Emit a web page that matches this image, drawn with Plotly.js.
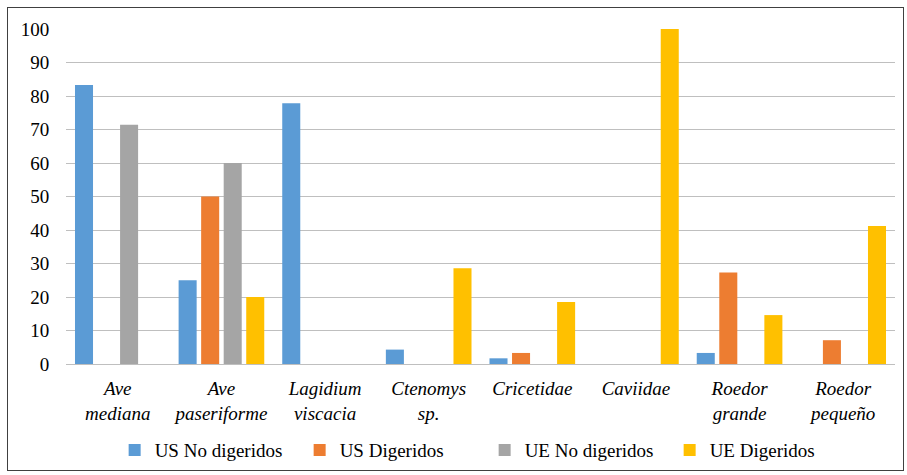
<!DOCTYPE html>
<html>
<head>
<meta charset="utf-8">
<script src="https://cdn.plot.ly/plotly-3.0.1.min.js"></script>
<style>
  html, body { margin: 0; padding: 0; background: #ffffff; }
  #wrap { position: relative; width: 907px; height: 475px; }
  #chart { width: 907px; height: 475px; }
  #frame { position: absolute; left: 7px; top: 7px; width: 895px; height: 462px; border: 1px solid #404040; pointer-events: none; }
  #warm { position: absolute; left: 0; top: 0; opacity: 0; pointer-events: none; font-family: "Liberation Serif"; font-size: 19px; }
</style>
</head>
<body>
<div id="wrap">
  <div id="chart"></div>
  <div id="frame"></div>
  <div id="warm"><span>0123456789 Ave</span><i>Ave mediana</i></div>
</div>
<script>
const categories = ["Ave<br>mediana", "Ave<br>paseriforme", "Lagidium<br>viscacia", "Ctenomys<br>sp.", "Cricetidae", "Caviidae", "Roedor<br>grande", "Roedor<br>pequeño"];
const seriesNames = ["US No digeridos", "US Digeridos", "UE No digeridos", "UE Digeridos"];
const usNoDigeridos = [83.3, 25, 77.8, 4.3, 1.7, 0, 3.3, 0];
const usDigeridos   = [0, 50, 0, 0, 3.3, 0, 27.3, 7.1];
const ueNoDigeridos = [71.4, 60, 0, 0, 0, 0, 0, 0];
const ueDigeridos   = [0, 20, 0, 28.6, 18.5, 100, 14.6, 41.2];
const yTicks = [0, 10, 20, 30, 40, 50, 60, 70, 80, 90, 100];

const colors = ["#5B9BD5", "#ED7D31", "#A5A5A5", "#FFC000"];
const values = [usNoDigeridos, usDigeridos, ueNoDigeridos, ueDigeridos];

const traces = values.map((v, i) => ({
  type: "bar",
  name: seriesNames[i],
  x: categories,
  y: v,
  marker: { color: colors[i] }
}));

const font = "Liberation Serif";

const layout = {
  width: 907,
  height: 475,
  margin: { l: 66, r: 12, t: 29, b: 111, autoexpand: false },
  paper_bgcolor: "#ffffff",
  plot_bgcolor: "#ffffff",
  barmode: "group",
  bargap: 0.13,
  bargroupgap: 0.2,
  font: { family: font, size: 19, color: "#000000" },
  xaxis: {
    type: "category",
    showgrid: false,
    showline: true,
    linecolor: "#bfbfbf",
    linewidth: 1,
    ticks: "outside",
    ticklen: 7,
    tickcolor: "rgba(0,0,0,0)",
    tickfont: { family: font, size: 19, style: "italic" }
  },
  yaxis: {
    range: [0, 100],
    tickvals: yTicks,
    showgrid: true,
    gridcolor: "#bfbfbf",
    gridwidth: 1,
    zeroline: false,
    ticks: "outside",
    ticklen: 12,
    tickcolor: "rgba(0,0,0,0)",
    tickfont: { family: font, size: 19 }
  },
  showlegend: true,
  legend: {
    orientation: "h",
    x: 0.505,
    xanchor: "center",
    y: -0.257,
    yanchor: "middle",
    entrywidth: 140,
    entrywidthmode: "pixels",
    font: { family: font, size: 19 }
  }
};

function draw() {
  Plotly.newPlot("chart", traces, layout, { displayModeBar: false, staticPlot: true }).then(gd => {
    document.querySelectorAll('#chart text').forEach(t => { void getComputedStyle(t).fontFamily; });
    return Plotly.relayout(gd, {});
  }).then(() => {
    document.querySelectorAll('#chart .xtick text, #chart .ytick text').forEach(t => {
      const ff = t.style.fontFamily;
      t.style.fontFamily = 'serif';
      void t.getBBox();
      t.style.fontFamily = ff;
    });
  });
}

Promise.all([
  document.fonts.load('19px "Liberation Serif"'),
  document.fonts.load('italic 19px "Liberation Serif"')
]).then(draw, draw);
</script>
</body>
</html>
